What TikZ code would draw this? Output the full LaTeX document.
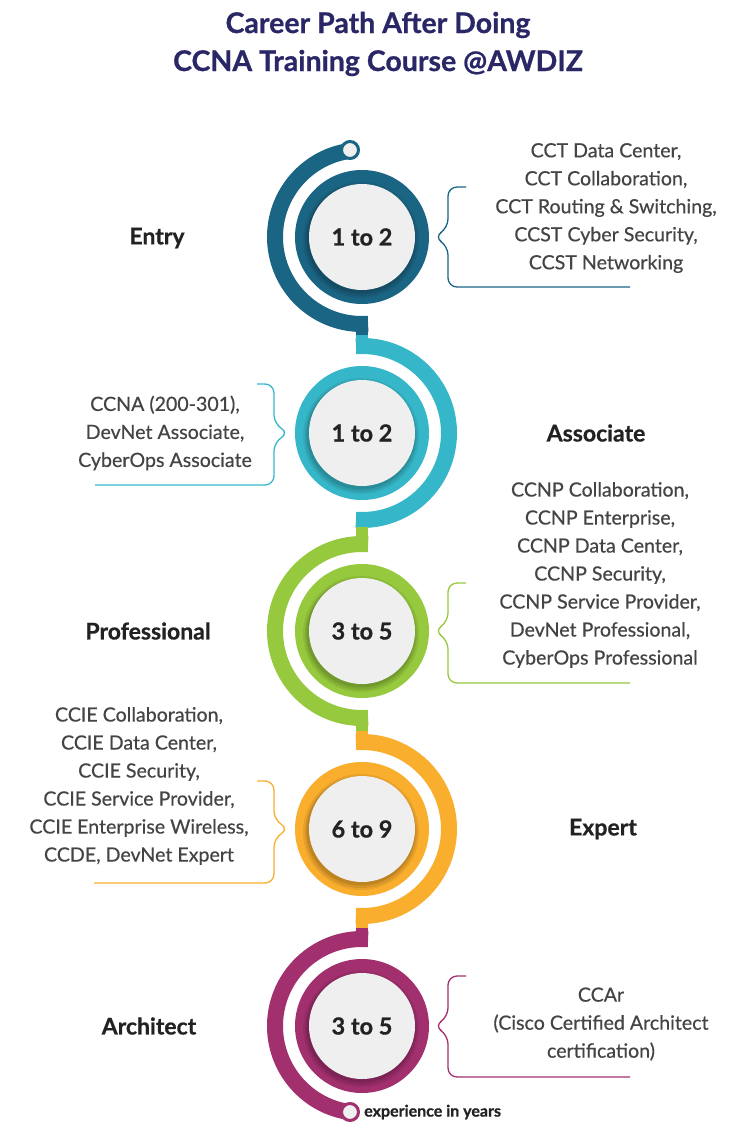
\documentclass[tikz,border=0pt]{standalone}
\usepackage{fontspec}
\setmainfont{Lato}[BoldFeatures={FakeBold=0.7}]
\newfontfamily\listfont[FakeBold=0.45]{Lato}
\definecolor{c1}{HTML}{1B6584}
\definecolor{c2}{HTML}{36B7C9}
\definecolor{c3}{HTML}{96C93D}
\definecolor{c4}{HTML}{F9AE2E}
\definecolor{c5}{HTML}{A2306F}
\definecolor{navy}{HTML}{2A2766}
\definecolor{txtgrey}{HTML}{444444}
\definecolor{lblblack}{HTML}{222222}
\definecolor{diskgrey}{HTML}{EFEFEF}
\tikzset{
  arcband/.style={line width=16pt},
  bracket/.style={line width=1.3pt, rounded corners=9pt},
  lst/.style={align=center, text=txtgrey, inner sep=0pt, font=\listfont\fontsize{19.6}{28}\selectfont},
  lbl/.style={font=\bfseries\fontsize{23}{26}\selectfont, text=lblblack},
  num/.style={font=\bfseries\fontsize{23.5}{28}\selectfont, text=lblblack},
  disk/.style={circle, fill=diskgrey, minimum size=106pt, inner sep=0pt},
  endcirc/.style={circle, line width=3pt, fill=diskgrey, minimum size=17pt, inner sep=0pt},
}
\newcommand{\stage}[4]{% name, colour, y, text
  \fill[#2] (362,#3) circle (67);
  \fill[black, opacity=0.07] (361,#3+3) circle (58);
  \fill[black, opacity=0.08] (361,#3+3) circle (56);
  \fill[black, opacity=0.10] (361,#3+2) circle (54.5);
  \node[disk, num] (#1) at (362,#3) {#4};
}
\begin{document}
\begin{tikzpicture}[x=1pt,y=-1pt]
\useasboundingbox (0,0) rectangle (755,1130);
\fill[white] (0,0) rectangle (755,1130);

% title
\node[align=center, text=navy, font=\bfseries\fontsize{28.5}{38}\selectfont] (title) at (378,44) {Career Path After Doing\\CCNA Training Course @AWDIZ};

% centres
\coordinate (k1) at (362,237);
\coordinate (k2) at (362,433);
\coordinate (k3) at (362,631);
\coordinate (k4) at (362,829);
\coordinate (k5) at (362,1026);

% arcs
\draw[arcband, c1] (k1) ++(262:87) arc[start angle=262, end angle=86, radius=87];
\fill[c1] (356,316) rectangle (368,335);

\fill[c2] (356,335) rectangle (368,354);
\draw[arcband, c2] (k2) ++(266:87) arc[start angle=266, end angle=454, radius=87];
\fill[c2] (356,512) rectangle (368,527);

\fill[c3] (356,527) rectangle (368,552);
\draw[arcband, c3] (k3) ++(274:87) arc[start angle=274, end angle=86, radius=87];
\fill[c3] (356,710) rectangle (368,731);

\fill[c4] (356,731) rectangle (368,750);
\draw[arcband, c4] (k4) ++(266:87) arc[start angle=266, end angle=454, radius=87];
\fill[c4] (356,908) rectangle (368,928);

\fill[c5] (356,928) rectangle (368,947);
\draw[arcband, c5] (k5) ++(274:87) arc[start angle=274, end angle=98, radius=87];

\node[endcirc, draw=c1] (top) at (350,150) {};
\node[endcirc, draw=c5] (bot) at (350,1112) {};

% stages
\stage{s1}{c1}{237}{1 to 2}
\stage{s2}{c2}{433}{1 to 2}
\stage{s3}{c3}{631}{3 to 5}
\stage{s4}{c4}{829}{6 to 9}
\stage{s5}{c5}{1026}{3 to 5}

% labels
\node[lbl] (l1) at (157,238) {Entry};
\node[lbl] (l2) at (596,433) {Associate};
\node[lbl] (l3) at (148,631) {Professional};
\node[lbl] (l4) at (603,829) {Expert};
\node[lbl] (l5) at (149,1026) {Architect};

% brackets
\draw[bracket, c1] (466,187) -- (448,187) -- (448,228) -- (434,237) -- (448,246) -- (448,287) -- (630,287);
\draw[bracket, c2] (257,384) -- (274,384) -- (274,424) -- (289,433) -- (274,442) -- (274,485) -- (95,485);
\draw[bracket, c3] (466,583) -- (448,583) -- (448,622) -- (434,631) -- (448,640) -- (448,683) -- (630,683);
\draw[bracket, c4] (257,781) -- (274,781) -- (274,820) -- (289,829) -- (274,838) -- (274,883) -- (94,883);
\draw[bracket, c5] (466,976) -- (448,976) -- (448,1017) -- (434,1026) -- (448,1035) -- (448,1077) -- (630,1077);

% lists
\node[lst] (t1) at (606,208) {CCT Data Center,\\CCT Collaboration,\\CCT Routing \& Switching,\\CCST Cyber Security,\\CCST Networking};
\node[lst] (t2) at (165,433) {CCNA (200-301),\\DevNet Associate,\\CyberOps Associate};
\node[lst] (t3) at (600,575) {CCNP Collaboration,\\CCNP Enterprise,\\CCNP Data Center,\\CCNP Security,\\CCNP Service Provider,\\DevNet Professional,\\CyberOps Professional};
\node[lst] (t4) at (139,786) {CCIE Collaboration,\\CCIE Data Center,\\CCIE Security,\\CCIE Service Provider,\\CCIE Enterprise Wireless,\\CCDE, DevNet Expert};
\node[lst] (t5) at (601,1024) {CCAr\\(Cisco Certified Architect\\certification)};

\node[anchor=west, inner sep=0pt, text=lblblack, font=\bfseries\fontsize{16}{18}\selectfont] (exp) at (364,1112) {experience in years};
\end{tikzpicture}
\end{document}
